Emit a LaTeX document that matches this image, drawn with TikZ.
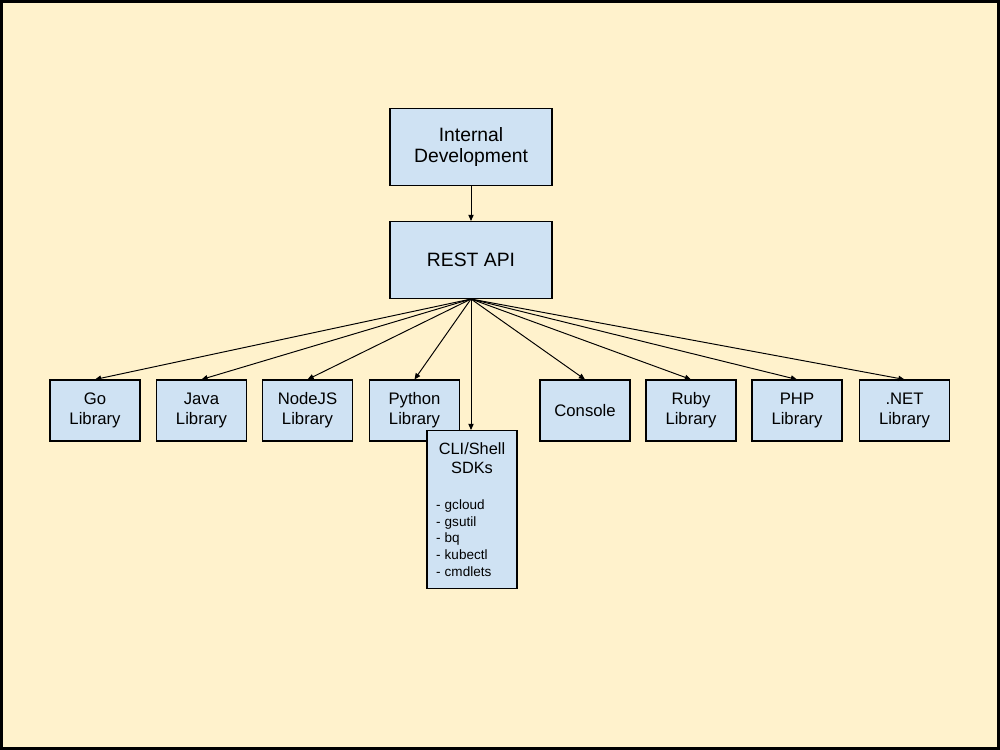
\documentclass[tikz,border=0pt]{standalone}
\usepackage{fontspec}
\setmainfont{Liberation Sans}
\usetikzlibrary{arrows.meta}
\definecolor{paper}{HTML}{FFF2CC}
\definecolor{boxblue}{HTML}{CFE2F3}
\newcommand{\tool}[1]{-\kern2.4pt#1}

\begin{document}
\begin{tikzpicture}[x=0.02cm,y=-0.02cm,
  box/.style={draw=black,fill=boxblue,line width=0.6pt,inner sep=0pt,align=center,
    minimum width=1.8cm,minimum height=1.22cm,font=\fontsize{9.5}{11.3}\selectfont},
  bigbox/.style={box,minimum width=3.24cm,minimum height=1.54cm,font=\fontsize{11}{12.5}\selectfont},
  link/.style={-{Triangle[length=3.5pt,width=3pt]},line width=0.55pt}]
% page and frame
\useasboundingbox (0,0) rectangle (1000,750);
\draw[fill=paper,line width=1.7pt] (1.5,1.5) rectangle (998.5,748.5);
% top of the stack
\node[bigbox] (internal) at (471,147) {Internal\\Development};
\node[bigbox] (rest) at (471,260) {REST API};
% client libraries
\node[box] (go) at (95,410.5) {Go\\Library};
\node[box] (java) at (201.5,410.5) {Java\\Library};
\node[box] (nodejs) at (307.5,410.5) {NodeJS\\Library};
\node[box] (python) at (414.5,410.5) {Python\\Library};
\node[box] (console) at (585,410.5) {Console};
\node[box] (ruby) at (691,410.5) {Ruby\\Library};
\node[box] (php) at (797,410.5) {PHP\\Library};
\node[box] (dotnet) at (904.5,410.5) {.NET\\Library};
% command line tools, drawn over the python box
\node[box,minimum height=3.16cm,text width=1.44cm,align=left,anchor=north] (cli) at (472,430)
  {{\centering\fontsize{9.3}{10.8}\selectfont CLI/Shell\\SDKs\par}\vspace{11pt}
   {\fontsize{7.7}{9.5}\selectfont \tool{gcloud}\\\tool{gsutil}\\\tool{bq}\\\tool{kubectl}\\\tool{cmdlets}\par}};
% arrows
\draw[link] (internal) -- (rest);
\foreach \target in {go,java,nodejs,python,console,ruby,php,dotnet}
  \draw[link] (rest.south) -- (\target.north);
\draw[link] (rest.south) -- (rest.south |- cli.north);
\end{tikzpicture}
\end{document}
